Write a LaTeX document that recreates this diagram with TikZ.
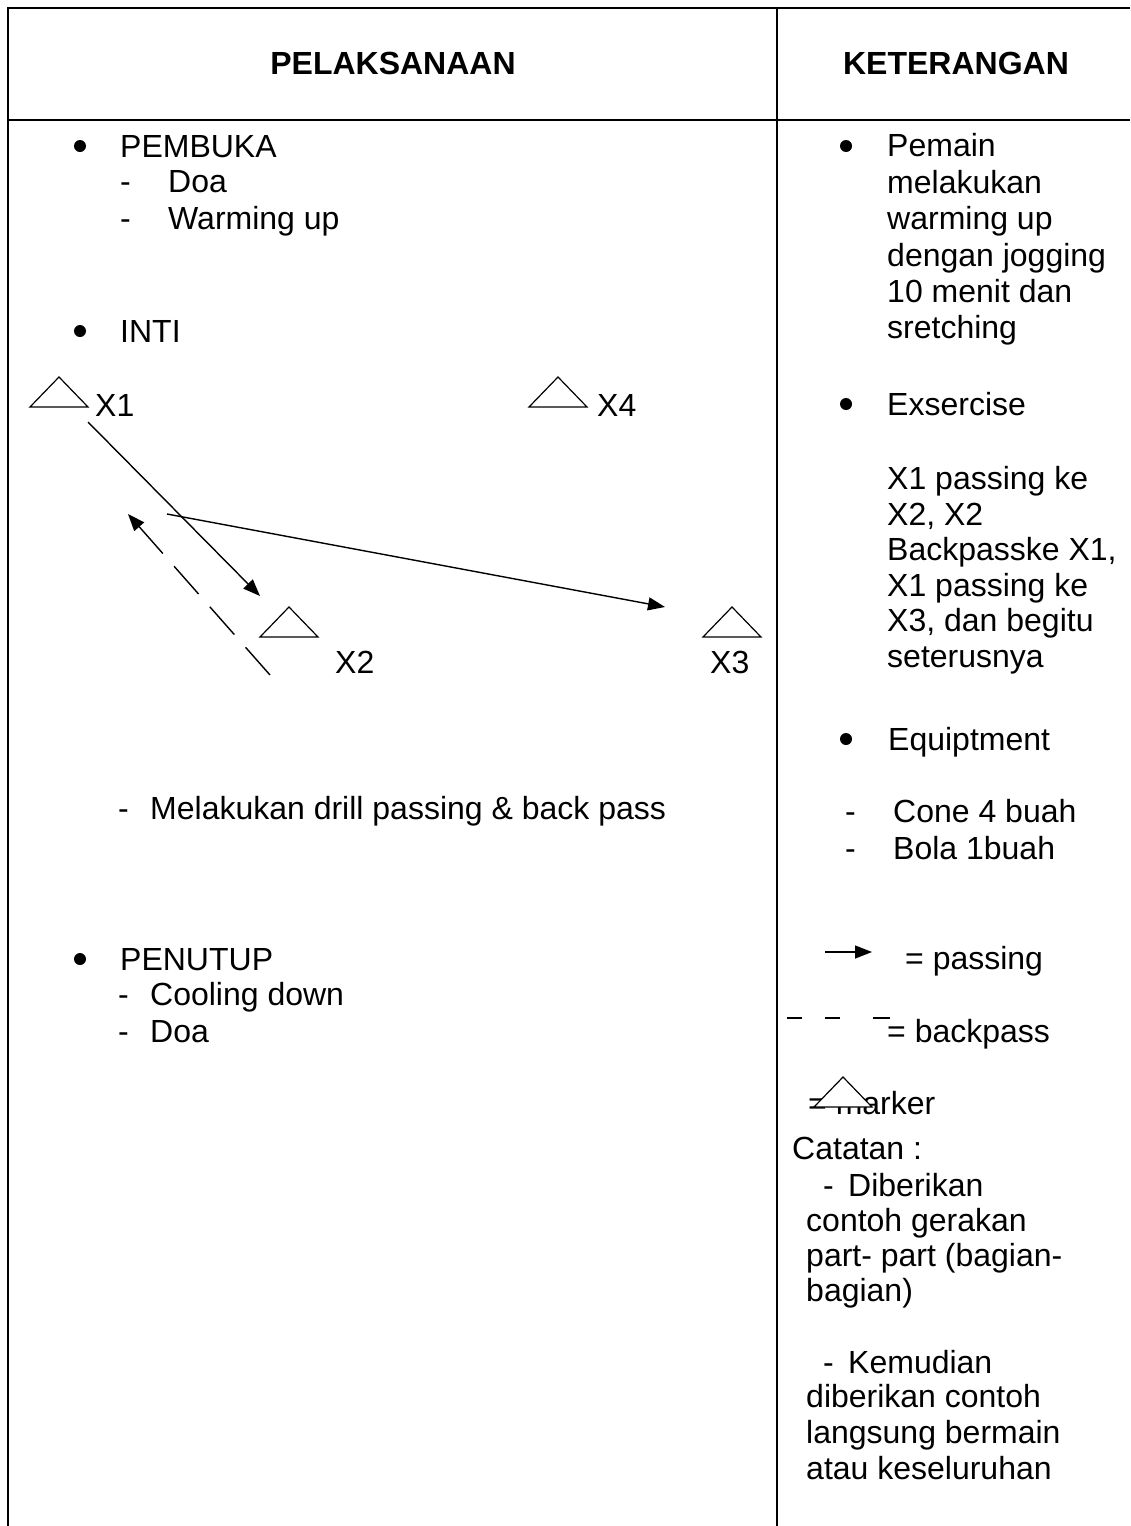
\documentclass[tikz,border=0pt]{standalone}
\usepackage{fontspec}
\setmainfont{Liberation Sans}
\usetikzlibrary{arrows.meta}

\newcommand{\pemainlines}{
        Pemain, melakukan, warming up, dengan jogging, 10 menit dan, sretching
    }
\newcommand{\exerciselines}{
        X1 passing ke, {X2, X2}, {Backpasske X1,}, X1 passing ke, {X3, dan begitu}, seterusnya
    }

\tikzset{
    txt/.style={font=\fontsize{32}{37}\selectfont, inner sep=0pt, anchor=base west},
    head/.style={font=\fontsize{32}{37}\selectfont\bfseries, inner sep=0pt, anchor=base},
    dot/.style={circle, fill=black, inner sep=0pt, minimum size=12pt},
    grid/.style={line width=2pt},
    pass/.style={line width=1.4pt, -{Triangle[length=17pt,width=13pt]}},
    backpass/.style={pass, dash pattern=on 37pt off 17pt},
    cone/.pic={\draw[line width=1.2pt, fill=white] (-29,15) -- (0,-15) -- (29,15) -- cycle;}
}

\begin{document}
\begin{tikzpicture}[x=1pt,y=-1pt]
        \useasboundingbox (0,0) rectangle (1130,1526);
        % Draw table lines
        \draw[grid] (1130,8) -- (8,8) -- (8,1526);
        \draw[grid] (8,120) -- (1130,120);
        \draw[grid] (777,8) -- (777,1526);
        \node[head] (pelaksanaan) at (393,74) {PELAKSANAAN};
        \node[head] (keterangan) at (956,74) {KETERANGAN};

        % Left column
        \node[dot] (bpembuka) at (80,146) {};
        \node[txt] (pembuka) at (120,157) {PEMBUKA};
        \node[txt] (d1) at (120,192) {-};
        \node[txt] (doa1) at (168,192) {Doa};
        \node[txt] (d2) at (120,229) {-};
        \node[txt] (warming) at (168,229) {Warming up};
        \node[dot] (binti) at (80,331) {};
        \node[txt] (inti) at (120,342) {INTI};

        % Markers (cones)
        \pic (m1) at (59,392) {cone};
        \pic (m4) at (558,392) {cone};
        \pic (m2) at (289,622) {cone};
        \pic (m3) at (732,622) {cone};
        \node[txt] (x1) at (95,416) {X1};
        \node[txt] (x4) at (597,416) {X4};
        \node[txt] (x2) at (335,673) {X2};
        \node[txt] (x3) at (710,673) {X3};

        % Draw passes
        \coordinate (p1s) at (88,422);
        \coordinate (p1e) at (260,596);
        \coordinate (p2s) at (167,514);
        \coordinate (p2e) at (665,607);
        \coordinate (b1s) at (270,675);
        \coordinate (b1e) at (128,514);
        \draw[pass] (p1s) -- (p1e);
        \draw[pass] (p2s) -- (p2e);
        \draw[backpass] (b1s) -- (b1e);

        \node[txt] (d3) at (118,819) {-};
        \node[txt] (drill) at (150,819) {Melakukan drill passing \& back pass};
        \node[dot] (bpenutup) at (80,959) {};
        \node[txt] (penutup) at (120,970) {PENUTUP};
        \node[txt] (d4) at (118,1005) {-};
        \node[txt] (cooling) at (150,1005) {Cooling down};
        \node[txt] (d5) at (118,1042) {-};
        \node[txt] (doa2) at (150,1042) {Doa};

        % Right column
        \node[dot] (bpemain) at (846,146) {};
        \foreach [count=\i] \t in \pemainlines{
            \node[txt] (pem\i) at (887,{120.5+36.4*\i}) {\t};
        }
        \node[dot] (bexercise) at (846,404) {};
        \node[txt] (exercise) at (887,415) {Exsercise};
        \foreach [count=\i] \t in \exerciselines{
            \node[txt] (ex\i) at (887,{454+35.5*\i}) {\t};
        }
        \node[dot] (bequip) at (846,739) {};
        \node[txt] (equip) at (888,750) {Equiptment};
        \node[txt] (d6) at (845,822) {-};
        \node[txt] (cone) at (893,822) {Cone 4 buah};
        \node[txt] (d7) at (845,859) {-};
        \node[txt] (bola) at (893,859) {Bola 1buah};

        % Legend
        \coordinate (ls) at (825,952);
        \coordinate (le) at (872,952);
        \draw[pass] (ls) -- (le);
        \node[txt] (lpass) at (905,969) {= passing};
        \coordinate (lbs) at (787,1018);
        \coordinate (lbe) at (890,1018);
        \draw[line width=1.2pt, dash pattern=on 15pt off 23pt on 15pt off 33pt on 17pt off 5pt] (lbs) -- (lbe);
        \node[txt] (lback) at (887,1042) {= backpass};
        \node[txt] (lmarker) at (808,1114) {= marker};
        \pic (lm) at (843,1092) {cone};

        % Catatan
        \node[txt] (catatan) at (792,1159) {Catatan :};
        \node[txt] (d8) at (823,1196) {-};
        \node[txt] (c1) at (848,1196) {Diberikan};
        \node[txt] (c2) at (806,1231) {contoh gerakan};
        \node[txt] (c3) at (806,1266) {part- part (bagian-};
        \node[txt] (c4) at (806,1301) {bagian)};
        \node[txt] (d9) at (823,1373) {-};
        \node[txt] (c5) at (848,1373) {Kemudian};
        \node[txt] (c6) at (806,1407) {diberikan contoh};
        \node[txt] (c7) at (806,1443) {langsung bermain};
        \node[txt] (c8) at (806,1479) {atau keseluruhan};
    \end{tikzpicture}
\end{document}
